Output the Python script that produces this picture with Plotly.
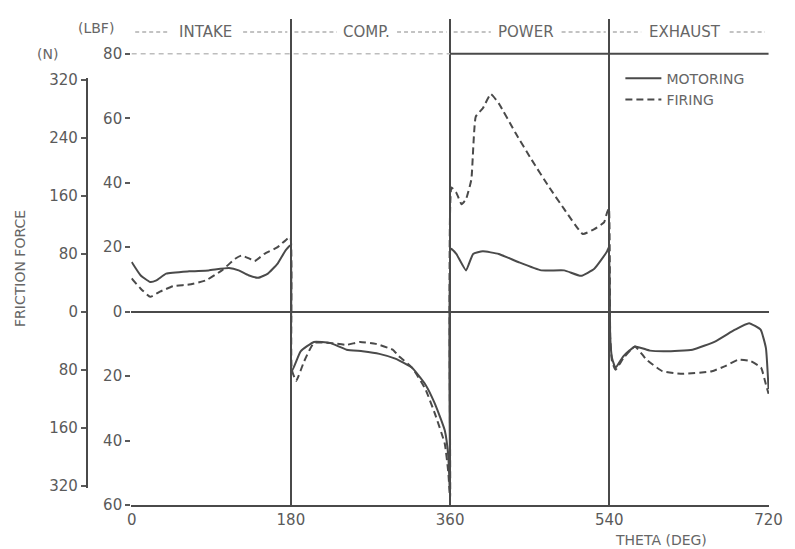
import plotly.graph_objects as go

LBF_TO_N = 4.44822

# ---- data ----
motor_theta = [0, 10, 21, 28, 39, 65, 87, 110, 121, 132, 143, 154, 165, 174, 179.5,
               181, 191, 206, 224, 243, 261, 280, 298, 317, 332, 343, 354, 358, 360,
               361, 367, 378, 386, 397, 415, 437, 463, 489, 508, 523, 537, 539.5,
               541, 543, 547, 556, 569, 586, 604, 634, 660, 682, 698, 711, 717, 720]
motor_force = [15.4, 11.3, 9.2, 9.7, 11.8, 12.5, 12.8, 13.5, 12.8, 11.3, 10.5, 11.8, 14.9, 19.0, 20.5,
               -18.5, -12.3, -9.4, -9.7, -11.8, -12.3, -13.1, -14.6, -17.4, -22.6, -28.7, -36.9, -45, -58,
               19.5, 17.9, 12.8, 17.9, 18.7, 17.9, 15.4, 12.8, 12.8, 11.1, 13.3, 18.5, 20,
               -8, -14.4, -17.4, -13.8, -10.8, -12.1, -12.3, -11.8, -9.2, -5.6, -3.6, -5.6, -11.3, -24]

fire_theta = [0, 10, 21, 32, 47, 65, 84, 102, 117, 124, 132, 139, 150, 165, 176, 179.5,
              181, 186, 195, 206, 224, 243, 258, 276, 295, 302, 317, 332, 343, 354, 358, 360,
              361.5, 367, 373, 378, 384, 389, 397, 406, 415, 434, 452, 471, 489, 510, 523, 534, 537.5, 539.5,
              541, 543, 547, 556, 569, 582, 600, 623, 656, 671, 686, 700, 711.5, 717, 720]
fire_force = [10.3, 7.2, 4.6, 6.2, 7.9, 8.4, 9.7, 12.8, 16.4, 17.4, 16.6, 15.7, 17.9, 20.0, 22.6, 23,
              -18, -21.5, -15.4, -9.7, -9.7, -10.3, -9.4, -10.0, -11.8, -13.8, -17.4, -24.0, -31.8, -41.0, -50, -58,
              38.5, 36.9, 33.3, 34.9, 41.0, 60.5, 63.1, 67.5, 64.6, 55.4, 47.2, 39.0, 31.8, 24.1, 25.6, 27.7, 30.8, 32,
              -8, -15.4, -18.0, -14.4, -10.8, -14.9, -18.5, -19.3, -18.5, -16.9, -14.9, -15.4, -17.4, -22.6, -25.5]

x_ticks = [0, 180, 360, 540, 720]
lbf_ticks = [-60, -40, -20, 0, 20, 40, 60, 80]
lbf_labels = ["60", "40", "20", "0", "20", "40", "60", "80"]
n_ticks = [-240, -160, -80, 0, 80, 160, 240, 320]
n_labels = ["320", "160", "80", "0", "80", "160", "240", "320"]

strokes = ["INTAKE", "COMP.", "POWER", "EXHAUST"]
stroke_label_x = [84, 266, 446, 626]
stroke_label_halfwidth = [38, 30, 36, 46]

# ---- layout constants ----
W, H = 795, 549
ML, MR, MT, MB = 20, 14, 15, 44
PW, PH = W - ML - MR, H - MT - MB
Y_MIN, Y_MAX = -60, 90.8
X_DOM0 = (133 - ML) / PW
HEADER_Y = 86.8

ink = "#4a4a4a"
txt = "#5a5a5a"
font = dict(family="DejaVu Sans", size=15, color=txt)
small = dict(family="DejaVu Sans", size=14, color="#666666")


def px(xp):
    return (xp - ML) / PW


def py(yp):
    return (H - MB - yp) / PH


fig = go.Figure()

fig.add_trace(go.Scatter(x=motor_theta, y=motor_force, mode="lines", name="MOTORING",
                         line=dict(color=ink, width=2, shape="spline", smoothing=0.4)))
fig.add_trace(go.Scatter(x=fire_theta, y=fire_force, mode="lines", name="FIRING",
                         line=dict(color=ink, width=2, dash="7px,4px", shape="spline", smoothing=0.4)))

# header dashed segments around each stroke name
for i, (lab, cx, hw) in enumerate(zip(strokes, stroke_label_x, stroke_label_halfwidth)):
    x0, x1 = x_ticks[i], x_ticks[i + 1]
    for a, b in [(x0 + 4, cx - hw - 4), (cx + hw + 4, x1 - 4)]:
        fig.add_trace(go.Scatter(x=[a, b], y=[HEADER_Y, HEADER_Y], mode="lines", showlegend=False,
                                 hoverinfo="skip", line=dict(color="#b0b0b0", width=1.5, dash="4px,3px")))
    fig.add_annotation(x=cx, y=HEADER_Y, text=lab, showarrow=False, xref="x", yref="y",
                       xanchor="center", yanchor="middle", font=dict(family="DejaVu Sans", size=15, color="#666666"))

# top 80 lbf line: faint on first half, solid on second half
fig.add_trace(go.Scatter(x=[x_ticks[0], x_ticks[2]], y=[80, 80], mode="lines", showlegend=False,
                         hoverinfo="skip", line=dict(color="#bdbdbd", width=1.5, dash="5px,4px")))
fig.add_trace(go.Scatter(x=[x_ticks[2], x_ticks[4]], y=[80, 80], mode="lines", showlegend=False,
                         hoverinfo="skip", line=dict(color=ink, width=2)))

# invisible trace for the Newton axis
fig.add_trace(go.Scatter(x=[None], y=[None], yaxis="y2", showlegend=False, hoverinfo="skip"))

n_lo, n_hi = -54.6, 72.6
fig.update_layout(
    width=W, height=H,
    margin=dict(l=ML, r=MR, t=MT, b=MB),
    paper_bgcolor="white", plot_bgcolor="rgba(0,0,0,0)",
    font=font,
    showlegend=True,
    legend=dict(x=px(630), y=py(59), xanchor="left", yanchor="top", bgcolor="rgba(0,0,0,0)",
                font=small, tracegroupgap=0, itemwidth=36),
    xaxis=dict(domain=[X_DOM0, 1], range=[-0.5, 720.5], tickvals=x_ticks,
               ticktext=[str(v) for v in x_ticks],
               showgrid=True, gridcolor=ink, gridwidth=2, zeroline=False,
               showline=True, linecolor=ink, linewidth=2, ticks="", ticklen=0,
               tickfont=font),
    yaxis=dict(range=[Y_MIN, Y_MAX], tickvals=lbf_ticks, ticktext=lbf_labels,
               showgrid=False, zeroline=True, zerolinecolor=ink, zerolinewidth=2,
               showline=False, ticks="outside", ticklen=5, tickcolor=txt, tickwidth=1.5,
               tickfont=font, anchor="x"),
    yaxis2=dict(domain=[(n_lo - Y_MIN) / (Y_MAX - Y_MIN), (n_hi - Y_MIN) / (Y_MAX - Y_MIN)],
                range=[n_lo * LBF_TO_N, n_hi * LBF_TO_N],
                anchor="free", position=px(88), side="left",
                tickvals=n_ticks, ticktext=n_labels, showgrid=False, zeroline=False,
                showline=True, linecolor=ink, linewidth=2, ticks="outside", ticklen=5,
                tickcolor=txt, tickwidth=1.5, tickfont=font),
)

fig.add_annotation(x=px(97), y=py(24), xref="paper", yref="paper", xanchor="center", yanchor="middle",
                   text="(LBF)", showarrow=False, font=small)
fig.add_annotation(x=px(48), y=py(50), xref="paper", yref="paper", xanchor="center", yanchor="middle",
                   text="(N)", showarrow=False, font=small)
fig.add_annotation(x=px(20), y=py(267), xref="paper", yref="paper", xanchor="center", yanchor="middle",
                   text="FRICTION FORCE", textangle=-90, showarrow=False, font=small)
fig.add_annotation(x=px(671), y=py(540), xref="paper", yref="paper", xanchor="center", yanchor="middle",
                   text="THETA (DEG)", showarrow=False, font=small)

fig.write_html("out.html")
